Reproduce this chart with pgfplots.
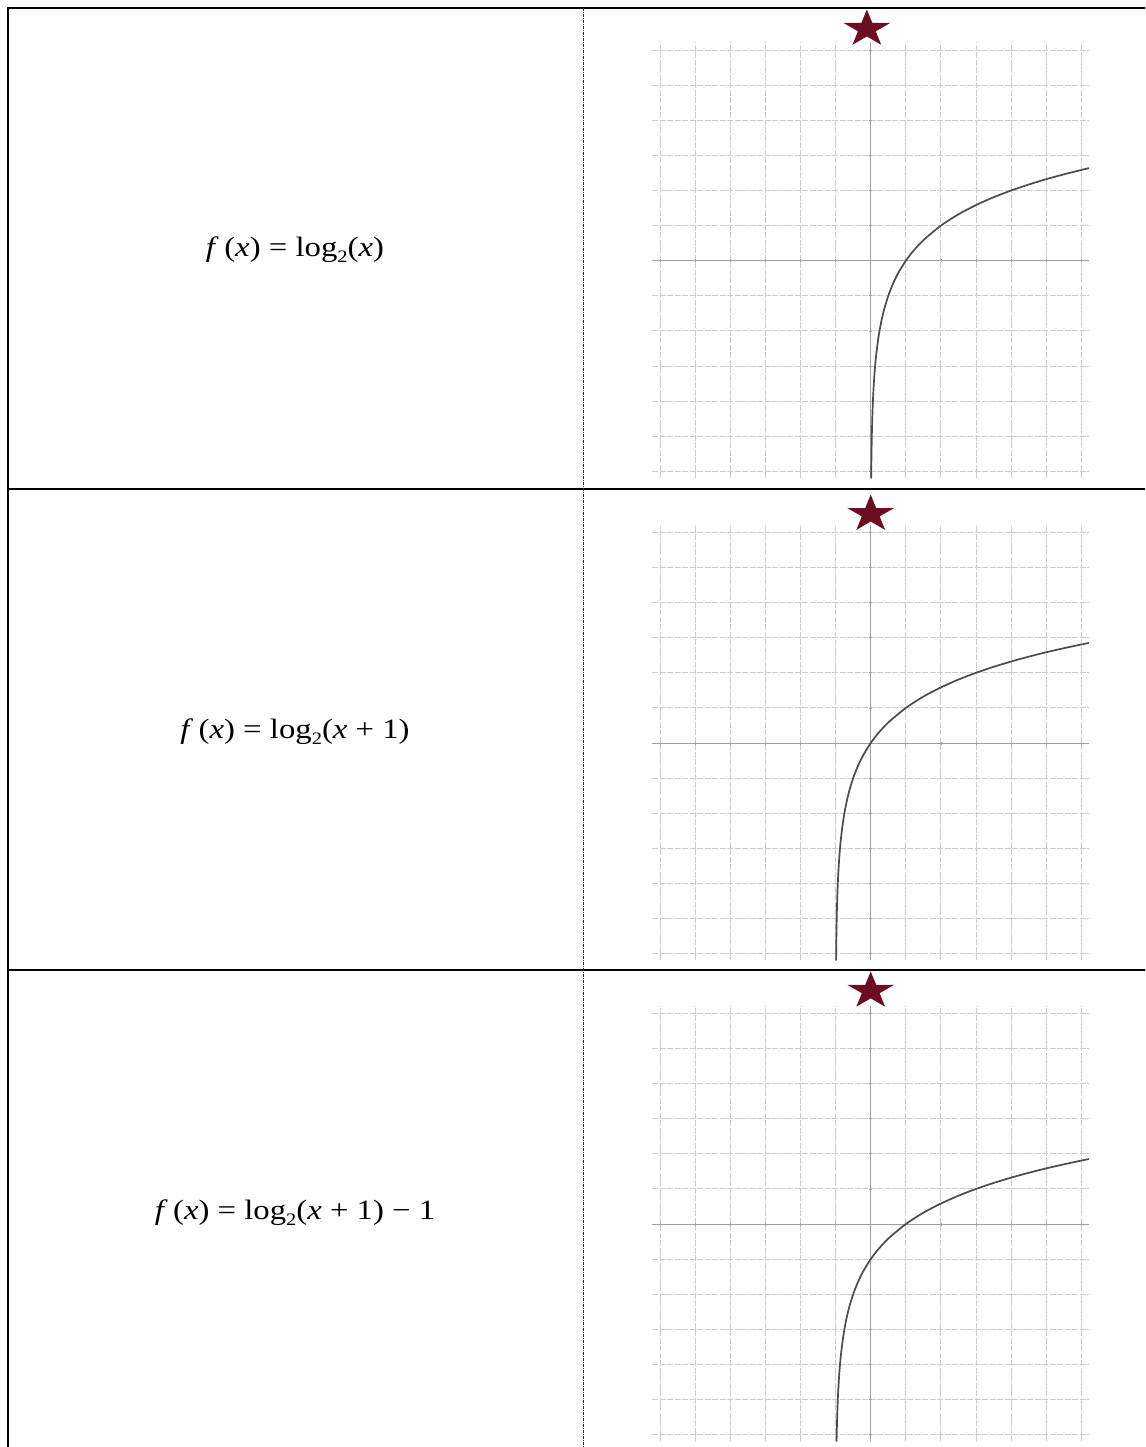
\documentclass[border=0pt]{standalone}
\usepackage{graphicx}
\usepackage{fontspec}
\setmainfont{Liberation Serif}
\usepackage{pgfplots}
\pgfplotsset{compat=1.18}

\definecolor{starred}{RGB}{108,14,34}
\definecolor{curvegray}{RGB}{75,75,75}

\pgfdeclareplotmark{fstar}{%
  \pgfpathmoveto{\pgfpoint{0bp}{19.5bp}}%
  \pgfpathlineto{\pgfpoint{5.5bp}{6.0bp}}%
  \pgfpathlineto{\pgfpoint{23.3bp}{6.0bp}}%
  \pgfpathlineto{\pgfpoint{8.9bp}{-2.3bp}}%
  \pgfpathlineto{\pgfpoint{14.4bp}{-15.8bp}}%
  \pgfpathlineto{\pgfpoint{0bp}{-7.45bp}}%
  \pgfpathlineto{\pgfpoint{-14.4bp}{-15.8bp}}%
  \pgfpathlineto{\pgfpoint{-8.9bp}{-2.3bp}}%
  \pgfpathlineto{\pgfpoint{-23.3bp}{6.0bp}}%
  \pgfpathlineto{\pgfpoint{-5.5bp}{6.0bp}}%
  \pgfpathclose
  \pgfusepathqfill
}

\newcommand\sub[1]{\raisebox{-0.22em}{\fontsize{17.5bp}{17.5bp}\selectfont #1}}
\newcommand\formula[1]{\scalebox{1.17}[1]{\fontsize{28bp}{33bp}\selectfont #1}}

\pgfplotsset{
  gridpanel/.style={
    scale only axis,
    width=437bp, height=435.7bp,
    xmin=-6.23, xmax=6.22, ymin=-6.19, ymax=6.22,
    axis lines=middle,
    axis line style={-, draw=gray!75, line width=1bp},
    xtick={-6,...,6}, ytick={-6,...,6},
    xticklabel=\relax, yticklabel=\relax,
    xticklabel style={opacity=0}, yticklabel style={opacity=0},
    major tick length=3bp,
    tick style={gray!75, line width=0.8bp},
    grid=major,
    major grid style={gray!40, line width=1bp, dash pattern=on 6bp off 1.5bp},
    clip=false,
    anchor=origin,
  },
  curve/.style={curvegray, line width=1.7bp, smooth, tension=0.4, no markers},
  starplot/.style={only marks, mark=fstar, starred},
}

\begin{document}
\begin{tikzpicture}[x=1bp,y=1bp]
\useasboundingbox (0,0) rectangle (1145,-1447);
\clip (0,0) rectangle (1145,-1447);
\fill[white] (0,0) rectangle (1145,-1447);

% table lines
\draw[line width=2.4bp] (8,-1460) -- (8,-8) -- (1160,-8);
\draw[line width=2bp] (8,-489) -- (1160,-489);
\draw[line width=2bp] (8,-970) -- (1160,-970);
\draw[gray!40!black, line width=0.9bp, dash pattern=on 3bp off 1bp on 1bp off 1bp] (583,-8) -- (583,-1460);

% formulas
\node[anchor=base] at (295,-256) {\formula{\textit{f}\,(\textit{x}) = log\sub{2}(\textit{x})}};
\node[anchor=base] at (295,-738) {\formula{\textit{f}\,(\textit{x}) = log\sub{2}(\textit{x} + 1)}};
\node[anchor=base] at (295,-1219) {\formula{\textit{f}\,(\textit{x}) = log\sub{2}(\textit{x} + 1) − 1}};

% panel 1
\begin{axis}[gridpanel, at={(870.7bp,-260.7bp)}]
\addplot[curve] coordinates {
(0.0136,-6.2)(0.015625,-6)(0.02,-5.644)(0.03,-5.059)(0.04,-4.644)(0.05,-4.322)(0.0625,-4)(0.075,-3.737)(0.1,-3.322)(0.125,-3)(0.15,-2.737)(0.2,-2.322)(0.25,-2)(0.3,-1.737)(0.35,-1.515)(0.4,-1.322)(0.5,-1)(0.6,-0.737)(0.7,-0.515)(0.8,-0.322)(1,0)(1.2,0.263)(1.5,0.585)(2,1)(2.5,1.322)(3,1.585)(3.5,1.807)(4,2)(4.5,2.170)(5,2.322)(5.5,2.459)(6,2.585)(6.22,2.637)
};
\addplot[starplot] coordinates {(-0.11,6.6)};
\end{axis}

% panel 2
\begin{axis}[gridpanel, at={(870.7bp,-743bp)}]
\addplot[curve] coordinates {
(-0.9864,-6.2)(-0.984375,-6)(-0.98,-5.644)(-0.97,-5.059)(-0.96,-4.644)(-0.95,-4.322)(-0.9375,-4)(-0.925,-3.737)(-0.9,-3.322)(-0.875,-3)(-0.85,-2.737)(-0.8,-2.322)(-0.75,-2)(-0.7,-1.737)(-0.65,-1.515)(-0.6,-1.322)(-0.5,-1)(-0.4,-0.737)(-0.3,-0.515)(-0.2,-0.322)(0,0)(0.2,0.263)(0.5,0.585)(1,1)(1.5,1.322)(2,1.585)(2.5,1.807)(3,2)(3.5,2.170)(4,2.322)(4.5,2.459)(5,2.585)(5.5,2.700)(6,2.807)(6.22,2.852)
};
\addplot[starplot] coordinates {(0,6.52)};
\end{axis}

% panel 3
\begin{axis}[gridpanel, at={(870.7bp,-1224bp)}]
\addplot[curve] coordinates {
(-0.9728,-6.2)(-0.97,-6.059)(-0.96875,-6)(-0.96,-5.644)(-0.95,-5.322)(-0.9375,-5)(-0.925,-4.737)(-0.9,-4.322)(-0.875,-4)(-0.85,-3.737)(-0.8,-3.322)(-0.75,-3)(-0.7,-2.737)(-0.65,-2.515)(-0.6,-2.322)(-0.5,-2)(-0.4,-1.737)(-0.3,-1.515)(-0.2,-1.322)(0,-1)(0.2,-0.737)(0.5,-0.415)(1,0)(1.5,0.322)(2,0.585)(2.5,0.807)(3,1)(3.5,1.170)(4,1.322)(4.5,1.459)(5,1.585)(5.5,1.700)(6,1.807)(6.22,1.852)
};
\addplot[starplot] coordinates {(0,6.64)};
\end{axis}
\end{tikzpicture}
\end{document}
